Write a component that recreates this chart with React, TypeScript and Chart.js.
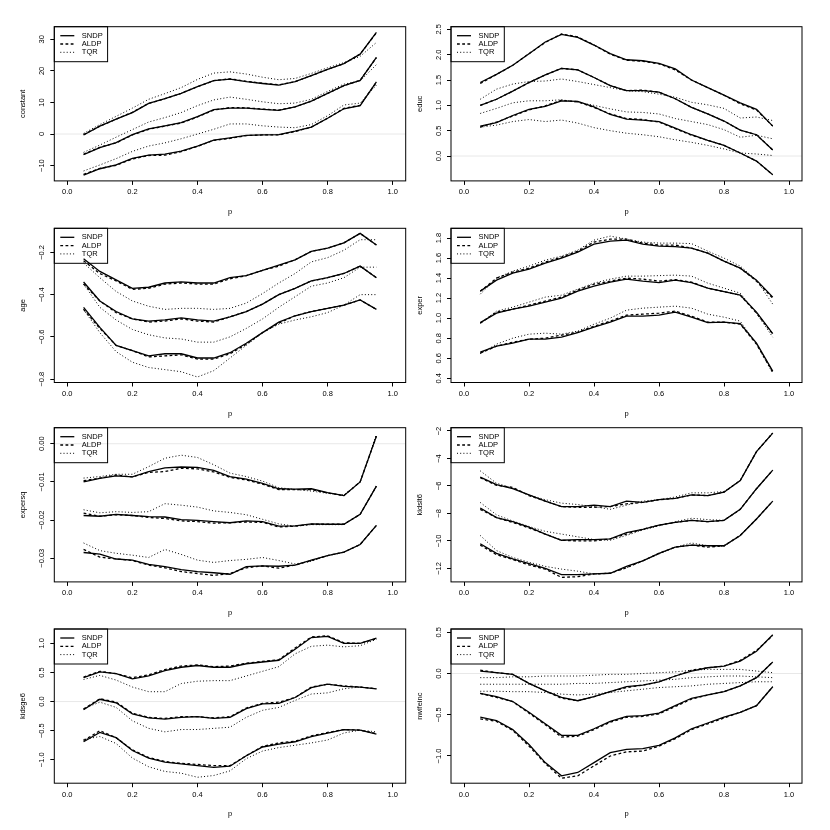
import { useEffect, useRef } from 'react';
import { Chart, registerables } from 'chart.js';

Chart.register(...registerables);

// quantile levels
const P = [0.05, 0.1, 0.15, 0.2, 0.25, 0.3, 0.35, 0.4, 0.45, 0.5, 0.55, 0.6, 0.65, 0.7, 0.75, 0.8, 0.85, 0.9, 0.95];
const X_TICKS = [0, 0.2, 0.4, 0.6, 0.8, 1.0];
const METHODS = ['SNDP', 'ALDP', 'TQR'];

// each block: [lower band, estimate, upper band]
const constantSNDP = [
  [-13.0, -11.0, -9.8, -7.7, -6.7, -6.4, -5.4, -3.8, -1.9, -1.2, -0.4, -0.3, -0.2, 0.9, 2.2, 5.0, 8.0, 9.0, 16.5],
  [-6.5, -4.3, -2.7, -0.2, 1.6, 2.6, 3.6, 5.5, 7.7, 8.2, 8.2, 7.8, 7.5, 8.6, 10.4, 12.9, 15.3, 17.0, 24.3],
  [-0.3, 2.5, 4.7, 6.8, 9.7, 11.2, 12.9, 15.0, 16.9, 17.4, 16.6, 16.0, 15.5, 16.6, 18.5, 20.5, 22.3, 25.3, 32.2],
];
const constantALDP = [
  [-12.8, -10.9, -9.9, -7.9, -6.8, -6.7, -5.6, -3.9, -2.0, -1.4, -0.5, -0.3, -0.3, 0.8, 2.2, 5.0, 8.1, 9.1, 16.4],
  [-6.4, -4.2, -2.8, -0.3, 1.5, 2.5, 3.5, 5.4, 7.6, 8.4, 8.3, 7.9, 7.6, 8.6, 10.4, 12.9, 15.3, 17.0, 24.2],
  [-0.2, 2.5, 4.7, 6.9, 9.7, 11.2, 12.9, 15.0, 16.9, 17.5, 16.7, 16.1, 15.6, 16.6, 18.5, 20.5, 22.3, 25.3, 32.1],
];
const constantTQR = [
  [-11.7, -9.8, -7.8, -5.5, -3.8, -2.8, -1.5, 0.0, 1.5, 3.2, 3.2, 2.6, 2.2, 2.0, 3.0, 5.8, 9.2, 9.8, 15.5],
  [-5.8, -3.5, -1.0, 1.4, 3.8, 5.2, 6.8, 9.0, 10.8, 11.7, 11.0, 10.2, 9.6, 9.8, 11.0, 13.5, 15.8, 16.8, 22.0],
  [0.2, 3.0, 5.6, 8.2, 11.0, 12.8, 14.7, 17.3, 19.3, 19.7, 19.0, 18.0, 17.2, 17.6, 19.2, 21.0, 22.6, 24.6, 29.0],
];

const educSNDP = [
  [0.59, 0.66, 0.8, 0.92, 0.98, 1.09, 1.08, 0.97, 0.82, 0.73, 0.71, 0.68, 0.55, 0.42, 0.31, 0.21, 0.06, -0.1, -0.37],
  [1.0, 1.12, 1.28, 1.45, 1.6, 1.73, 1.7, 1.55, 1.39, 1.29, 1.29, 1.26, 1.13, 0.96, 0.83, 0.69, 0.51, 0.42, 0.12],
  [1.45, 1.61, 1.79, 2.02, 2.25, 2.4, 2.34, 2.19, 2.02, 1.9, 1.88, 1.83, 1.72, 1.5, 1.35, 1.2, 1.05, 0.92, 0.59],
];
const educALDP = [
  [0.57, 0.67, 0.79, 0.91, 0.99, 1.1, 1.07, 0.96, 0.83, 0.74, 0.72, 0.67, 0.54, 0.41, 0.31, 0.21, 0.06, -0.1, -0.37],
  [1.0, 1.12, 1.28, 1.45, 1.6, 1.73, 1.7, 1.55, 1.39, 1.29, 1.3, 1.26, 1.13, 0.96, 0.83, 0.69, 0.51, 0.42, 0.12],
  [1.43, 1.61, 1.79, 2.02, 2.24, 2.41, 2.35, 2.19, 2.01, 1.89, 1.87, 1.82, 1.7, 1.5, 1.35, 1.2, 1.03, 0.91, 0.59],
];
const educTQR = [
  [0.57, 0.61, 0.68, 0.72, 0.68, 0.71, 0.65, 0.56, 0.5, 0.45, 0.42, 0.38, 0.32, 0.27, 0.21, 0.14, 0.06, 0.04, 0.01],
  [0.84, 0.94, 1.05, 1.09, 1.09, 1.11, 1.06, 1.0, 0.93, 0.87, 0.86, 0.83, 0.74, 0.68, 0.62, 0.52, 0.37, 0.41, 0.34],
  [1.12, 1.32, 1.42, 1.47, 1.48, 1.52, 1.47, 1.41, 1.35, 1.29, 1.27, 1.22, 1.16, 1.06, 1.01, 0.94, 0.75, 0.77, 0.7],
];

const ageSNDP = [
  [-0.46, -0.555, -0.64, -0.665, -0.69, -0.68, -0.68, -0.7, -0.7, -0.675, -0.63, -0.58, -0.53, -0.5, -0.48, -0.465, -0.45, -0.425, -0.47],
  [-0.34, -0.43, -0.48, -0.515, -0.525, -0.52, -0.51, -0.52, -0.525, -0.505, -0.48, -0.445, -0.4, -0.37, -0.335, -0.32, -0.3, -0.265, -0.32],
  [-0.23, -0.29, -0.33, -0.37, -0.365, -0.345, -0.34, -0.345, -0.345, -0.32, -0.31, -0.285, -0.26, -0.235, -0.195, -0.18, -0.155, -0.11, -0.165],
];
const ageALDP = [
  [-0.47, -0.56, -0.64, -0.665, -0.695, -0.69, -0.685, -0.705, -0.705, -0.68, -0.635, -0.58, -0.535, -0.5, -0.48, -0.465, -0.45, -0.425, -0.47],
  [-0.35, -0.43, -0.485, -0.515, -0.53, -0.525, -0.515, -0.525, -0.53, -0.505, -0.48, -0.445, -0.4, -0.37, -0.335, -0.32, -0.3, -0.265, -0.32],
  [-0.24, -0.3, -0.335, -0.375, -0.37, -0.35, -0.345, -0.35, -0.35, -0.325, -0.31, -0.285, -0.265, -0.235, -0.195, -0.18, -0.155, -0.11, -0.165],
];
const ageTQR = [
  [-0.47, -0.58, -0.67, -0.72, -0.745, -0.755, -0.765, -0.79, -0.76, -0.7, -0.64, -0.58, -0.54, -0.52, -0.505, -0.485, -0.45, -0.4, -0.4],
  [-0.35, -0.46, -0.52, -0.565, -0.59, -0.605, -0.61, -0.625, -0.625, -0.6, -0.56, -0.515, -0.46, -0.41, -0.36, -0.345, -0.32, -0.27, -0.27],
  [-0.25, -0.32, -0.385, -0.43, -0.455, -0.47, -0.465, -0.465, -0.47, -0.465, -0.44, -0.395, -0.345, -0.3, -0.245, -0.225, -0.19, -0.14, -0.14],
];

const experSNDP = [
  [0.66, 0.72, 0.75, 0.79, 0.79, 0.81, 0.855, 0.91, 0.96, 1.02, 1.02, 1.03, 1.06, 1.01, 0.955, 0.96, 0.945, 0.75, 0.47],
  [0.955, 1.05, 1.09, 1.12, 1.16, 1.2, 1.27, 1.32, 1.36, 1.39, 1.37, 1.355, 1.38, 1.355, 1.3, 1.265, 1.23, 1.06, 0.845],
  [1.27, 1.38, 1.45, 1.49, 1.55, 1.6, 1.66, 1.74, 1.77, 1.78, 1.74, 1.72, 1.715, 1.7, 1.65, 1.57, 1.5, 1.38, 1.21],
];
const experALDP = [
  [0.65, 0.72, 0.76, 0.79, 0.8, 0.83, 0.86, 0.92, 0.97, 1.03, 1.04, 1.05, 1.07, 1.02, 0.96, 0.96, 0.94, 0.74, 0.46],
  [0.95, 1.06, 1.09, 1.13, 1.17, 1.21, 1.28, 1.34, 1.37, 1.4, 1.39, 1.37, 1.385, 1.36, 1.3, 1.265, 1.23, 1.05, 0.84],
  [1.27, 1.4, 1.46, 1.5, 1.56, 1.61, 1.67, 1.76, 1.79, 1.79, 1.75, 1.73, 1.73, 1.7, 1.65, 1.57, 1.5, 1.37, 1.2],
];
const experTQR = [
  [0.645, 0.74, 0.8, 0.84, 0.85, 0.84, 0.87, 0.94, 1.0, 1.08, 1.1, 1.11, 1.12, 1.1, 1.04, 1.01, 0.97, 0.74, 0.45],
  [0.95, 1.07, 1.11, 1.16, 1.21, 1.23, 1.29, 1.35, 1.39, 1.42, 1.42, 1.425, 1.43, 1.42, 1.35, 1.3, 1.25, 1.05, 0.81],
  [1.24, 1.4, 1.47, 1.52, 1.58, 1.62, 1.68, 1.78, 1.82, 1.79, 1.76, 1.75, 1.75, 1.745, 1.67, 1.6, 1.52, 1.38, 1.14],
];

const expersqSNDP = [
  [-0.0285, -0.0289, -0.0302, -0.0305, -0.0316, -0.0322, -0.033, -0.0335, -0.0338, -0.0342, -0.0322, -0.032, -0.0321, -0.0318, -0.0305, -0.0293, -0.0284, -0.0264, -0.0214],
  [-0.0188, -0.019, -0.0185, -0.0188, -0.0191, -0.0192, -0.0199, -0.0201, -0.0204, -0.0207, -0.0202, -0.0204, -0.0216, -0.0215, -0.021, -0.0211, -0.0211, -0.0185, -0.0111],
  [-0.01, -0.0091, -0.0084, -0.0087, -0.0073, -0.0063, -0.0061, -0.0062, -0.007, -0.0086, -0.0093, -0.0104, -0.0118, -0.0119, -0.0118, -0.0128, -0.0136, -0.01, 0.002],
];
const expersqALDP = [
  [-0.0277, -0.0297, -0.0302, -0.0306, -0.0318, -0.0325, -0.0335, -0.034, -0.0345, -0.034, -0.0325, -0.032, -0.0326, -0.0318, -0.0306, -0.0293, -0.0284, -0.0264, -0.0214],
  [-0.0182, -0.019, -0.0186, -0.0188, -0.0193, -0.0196, -0.0202, -0.0204, -0.0208, -0.0207, -0.0205, -0.0206, -0.0218, -0.0216, -0.0211, -0.0211, -0.0211, -0.0185, -0.0111],
  [-0.0097, -0.009, -0.0082, -0.0087, -0.0075, -0.0073, -0.0064, -0.0066, -0.0074, -0.0088, -0.0095, -0.0106, -0.012, -0.012, -0.012, -0.0129, -0.0136, -0.01, 0.002],
];
const expersqTQR = [
  [-0.026, -0.028, -0.0287, -0.0292, -0.0298, -0.0277, -0.029, -0.0305, -0.0311, -0.0306, -0.0303, -0.0298, -0.0306, -0.0315, -0.0308, -0.0293, -0.0284, -0.0264, -0.0214],
  [-0.0173, -0.0181, -0.0178, -0.018, -0.0178, -0.0157, -0.0161, -0.0166, -0.0176, -0.018, -0.0186, -0.0198, -0.021, -0.0216, -0.0212, -0.0212, -0.0212, -0.0185, -0.0111],
  [-0.009, -0.0086, -0.008, -0.008, -0.006, -0.0038, -0.003, -0.0036, -0.0055, -0.0077, -0.0086, -0.0098, -0.0115, -0.012, -0.0124, -0.013, -0.0134, -0.01, 0.0025],
];

const kidslt6SNDP = [
  [-10.2, -10.9, -11.3, -11.65, -12.0, -12.45, -12.45, -12.4, -12.35, -11.85, -11.45, -10.9, -10.45, -10.3, -10.35, -10.35, -9.6, -8.4, -7.1],
  [-7.6, -8.3, -8.6, -9.0, -9.5, -9.95, -9.9, -9.9, -9.85, -9.4, -9.15, -8.85, -8.65, -8.5, -8.6, -8.5, -7.7, -6.2, -4.85],
  [-5.35, -5.9, -6.2, -6.65, -7.1, -7.5, -7.5, -7.4, -7.5, -7.1, -7.2, -7.0, -6.9, -6.65, -6.7, -6.45, -5.6, -3.5, -2.15],
];
const kidslt6ALDP = [
  [-10.3, -11.0, -11.35, -11.75, -12.05, -12.65, -12.6, -12.4, -12.35, -11.95, -11.45, -10.9, -10.45, -10.3, -10.45, -10.35, -9.6, -8.4, -7.1],
  [-7.7, -8.3, -8.65, -9.05, -9.5, -9.95, -10.0, -10.0, -9.85, -9.5, -9.15, -8.85, -8.65, -8.5, -8.6, -8.5, -7.7, -6.2, -4.85],
  [-5.4, -5.95, -6.1, -6.7, -7.1, -7.5, -7.55, -7.55, -7.5, -7.3, -7.2, -7.0, -6.9, -6.65, -6.7, -6.45, -5.6, -3.5, -2.15],
];
const kidslt6TQR = [
  [-9.6, -10.7, -11.2, -11.55, -11.85, -12.05, -12.2, -12.4, -12.35, -11.95, -11.45, -10.95, -10.45, -10.15, -10.35, -10.4, -9.6, -8.4, -7.1],
  [-7.2, -8.1, -8.55, -8.95, -9.3, -9.5, -9.7, -9.9, -9.95, -9.6, -9.2, -8.9, -8.6, -8.35, -8.45, -8.5, -7.7, -6.2, -4.85],
  [-4.9, -5.8, -6.15, -6.65, -7.0, -7.25, -7.35, -7.5, -7.7, -7.4, -7.1, -7.0, -6.8, -6.5, -6.5, -6.4, -5.6, -3.5, -2.1],
];

const kidsge6SNDP = [
  [-0.69, -0.53, -0.62, -0.84, -0.97, -1.04, -1.07, -1.1, -1.13, -1.11, -0.93, -0.78, -0.73, -0.69, -0.6, -0.54, -0.48, -0.49, -0.56],
  [-0.14, 0.04, -0.02, -0.21, -0.28, -0.3, -0.27, -0.26, -0.29, -0.27, -0.12, -0.04, -0.03, 0.07, 0.24, 0.3, 0.26, 0.25, 0.22],
  [0.41, 0.51, 0.48, 0.39, 0.44, 0.53, 0.59, 0.62, 0.59, 0.59, 0.65, 0.68, 0.71, 0.9, 1.1, 1.12, 1.0, 1.0, 1.09],
];
const kidsge6ALDP = [
  [-0.67, -0.5, -0.62, -0.83, -0.96, -1.03, -1.06, -1.08, -1.1, -1.1, -0.93, -0.77, -0.71, -0.68, -0.59, -0.53, -0.48, -0.49, -0.55],
  [-0.13, 0.05, -0.01, -0.2, -0.27, -0.29, -0.26, -0.26, -0.28, -0.26, -0.11, -0.03, -0.01, 0.07, 0.25, 0.3, 0.27, 0.25, 0.22],
  [0.42, 0.52, 0.48, 0.41, 0.46, 0.55, 0.61, 0.63, 0.6, 0.61, 0.66, 0.69, 0.72, 0.92, 1.11, 1.13, 1.01, 1.0, 1.08],
];
const kidsge6TQR = [
  [-0.65, -0.6, -0.72, -0.97, -1.12, -1.2, -1.23, -1.3, -1.27, -1.19, -0.98, -0.85, -0.79, -0.75, -0.71, -0.66, -0.54, -0.49, -0.52],
  [-0.12, -0.01, -0.1, -0.33, -0.46, -0.52, -0.48, -0.48, -0.46, -0.44, -0.27, -0.15, -0.1, 0.02, 0.13, 0.15, 0.22, 0.25, 0.22],
  [0.38, 0.45, 0.37, 0.25, 0.17, 0.17, 0.31, 0.35, 0.36, 0.36, 0.44, 0.52, 0.6, 0.82, 0.95, 0.97, 0.94, 0.96, 1.07],
];

const nwifeincSNDP = [
  [-0.53, -0.57, -0.68, -0.86, -1.08, -1.24, -1.2, -1.08, -0.96, -0.92, -0.91, -0.87, -0.78, -0.67, -0.6, -0.53, -0.47, -0.39, -0.16],
  [-0.24, -0.28, -0.34, -0.47, -0.61, -0.75, -0.75, -0.67, -0.58, -0.52, -0.51, -0.48, -0.39, -0.3, -0.26, -0.22, -0.15, -0.05, 0.14],
  [0.03, 0.01, -0.01, -0.12, -0.21, -0.29, -0.33, -0.28, -0.22, -0.16, -0.14, -0.1, -0.03, 0.03, 0.07, 0.09, 0.15, 0.27, 0.47],
];
const nwifeincALDP = [
  [-0.55, -0.58, -0.69, -0.88, -1.09, -1.27, -1.24, -1.12, -1.0, -0.95, -0.94, -0.88, -0.79, -0.68, -0.61, -0.54, -0.47, -0.39, -0.16],
  [-0.24, -0.29, -0.34, -0.48, -0.62, -0.77, -0.76, -0.68, -0.59, -0.53, -0.52, -0.49, -0.4, -0.31, -0.26, -0.22, -0.15, -0.05, 0.14],
  [0.04, 0.01, -0.01, -0.12, -0.21, -0.3, -0.33, -0.28, -0.22, -0.17, -0.14, -0.1, -0.03, 0.04, 0.07, 0.09, 0.16, 0.28, 0.46],
];
const nwifeincTQR = [
  [-0.215, -0.215, -0.22, -0.22, -0.23, -0.25, -0.26, -0.25, -0.23, -0.21, -0.19, -0.17, -0.16, -0.15, -0.13, -0.12, -0.11, -0.1, -0.1],
  [-0.13, -0.13, -0.13, -0.13, -0.13, -0.13, -0.12, -0.12, -0.11, -0.1, -0.09, -0.08, -0.07, -0.05, -0.04, -0.03, -0.03, -0.04, -0.05],
  [-0.05, -0.05, -0.04, -0.04, -0.03, -0.03, -0.03, -0.02, -0.01, -0.01, 0.0, 0.01, 0.02, 0.04, 0.05, 0.05, 0.05, 0.03, 0.01],
];

const FONT = { family: "'Liberation Sans', Arial, Helvetica, sans-serif", size: 7.5 };
const FONT_CSS = `7.5px 'Liberation Sans', Arial, Helvetica, sans-serif`;

const STYLES = [
  { dash: [] as number[], width: 1.3 },
  { dash: [2.8, 2.4], width: 1.3 },
  { dash: [1, 2.2], width: 1 },
];

interface PanelDef {
  name: string;
  series: number[][][];
  yMin: number;
  yMax: number;
  yTicks: number[];
  dec: number;
}

const PANELS: PanelDef[] = [
  { name: 'constant', series: [constantSNDP, constantALDP, constantTQR], yMin: -14.85, yMax: 34.0, yTicks: [-10, 0, 10, 20, 30], dec: 0 },
  { name: 'educ', series: [educSNDP, educALDP, educTQR], yMin: -0.491, yMax: 2.552, yTicks: [0, 0.5, 1, 1.5, 2, 2.5], dec: 1 },
  { name: 'age', series: [ageSNDP, ageALDP, ageTQR], yMin: -0.816, yMax: -0.086, yTicks: [-0.8, -0.6, -0.4, -0.2], dec: 1 },
  { name: 'exper', series: [experSNDP, experALDP, experTQR], yMin: 0.357, yMax: 1.898, yTicks: [0.4, 0.6, 0.8, 1.0, 1.2, 1.4, 1.6, 1.8], dec: 1 },
  { name: 'expersq', series: [expersqSNDP, expersqALDP, expersqTQR], yMin: -0.0362, yMax: 0.0042, yTicks: [-0.03, -0.02, -0.01, 0], dec: 2 },
  { name: 'kidslt6', series: [kidslt6SNDP, kidslt6ALDP, kidslt6TQR], yMin: -12.98, yMax: -1.76, yTicks: [-12, -10, -8, -6, -4, -2], dec: 0 },
  { name: 'kidsge6', series: [kidsge6SNDP, kidsge6ALDP, kidsge6TQR], yMin: -1.402, yMax: 1.247, yTicks: [-1, -0.5, 0, 0.5, 1], dec: 1 },
  { name: 'nwifeinc', series: [nwifeincSNDP, nwifeincALDP, nwifeincTQR], yMin: -1.33, yMax: 0.54, yTicks: [-1, -0.5, 0, 0.5], dec: 1 },
];

// page geometry (R mfrow layout)
const COL_W = 415;
const COL_PLOT = [{ l: 54.3, r: 405.7 }, { l: 36, r: 387 }];
const ROW_TOP = [26.7, 228.3, 427.7, 629];
const PLOT_H = 154.2;
const CANVAS_H = 225;

const fmt = (v: number, dec: number) => v.toFixed(dec).replace('-', '\u2212');

const rPlot = {
  id: 'rPlot',
  beforeDatasetsDraw(chart: any) {
    const { ctx, chartArea: a, scales: { y } } = chart;
    if (y.min < 0 && y.max > 0) {
      const py = y.getPixelForValue(0);
      ctx.save();
      ctx.strokeStyle = '#e8e8e8';
      ctx.lineWidth = 1;
      ctx.beginPath();
      ctx.moveTo(a.left, py);
      ctx.lineTo(a.right, py);
      ctx.stroke();
      ctx.restore();
    }
  },
  afterDraw(chart: any, _args: any, opts: any) {
    const { ctx, chartArea: a, scales: { y } } = chart;
    ctx.save();
    // frame
    ctx.strokeStyle = '#000';
    ctx.lineWidth = 1;
    ctx.strokeRect(a.left, a.top, a.right - a.left, a.bottom - a.top);
    // rotated y tick labels
    ctx.fillStyle = '#000';
    ctx.font = FONT_CSS;
    ctx.textAlign = 'center';
    ctx.textBaseline = 'middle';
    for (const t of y.ticks) {
      ctx.save();
      ctx.translate(a.left - 12, y.getPixelForValue(t.value));
      ctx.rotate(-Math.PI / 2);
      ctx.fillText(fmt(t.value, opts.dec), 0, 0);
      ctx.restore();
    }
    // legend box
    const lx = a.left;
    const ly = a.top;
    ctx.strokeRect(lx, ly, 53.3, 35);
    const rows = [9, 17.3, 25.6];
    ctx.textAlign = 'left';
    METHODS.forEach((m, i) => {
      const s = STYLES[i];
      ctx.setLineDash(s.dash);
      ctx.lineWidth = s.width;
      ctx.beginPath();
      ctx.moveTo(lx + 6, ly + rows[i]);
      ctx.lineTo(lx + 20, ly + rows[i]);
      ctx.stroke();
      ctx.setLineDash([]);
      ctx.fillText(m, lx + 27.5, ly + rows[i]);
    });
    ctx.restore();
  },
};

function Panel({ def, index }: { def: PanelDef; index: number }) {
  const canvasRef = useRef<HTMLCanvasElement>(null);
  const col = index % 2;
  const row = Math.floor(index / 2);
  const left = col * COL_W;
  const top = Math.floor(ROW_TOP[row]) - 26;
  const padTop = ROW_TOP[row] - top;
  const plot = COL_PLOT[col];
  const xH = CANVAS_H - padTop - PLOT_H;

  useEffect(() => {
    if (!canvasRef.current) return;
    const datasets: any[] = [];
    def.series.forEach((bands, m) => {
      bands.forEach((vals) => {
        datasets.push({
          label: METHODS[m],
          data: P.map((p, i) => ({ x: p, y: vals[i] })),
          borderColor: '#000',
          borderWidth: STYLES[m].width,
          borderDash: STYLES[m].dash,
          pointRadius: 0,
          fill: false,
          tension: 0,
        });
      });
    });

    const grid = { drawOnChartArea: false, drawTicks: true, tickLength: 4, color: '#000', tickColor: '#000', lineWidth: 1 };

    const chart = new Chart(canvasRef.current, {
      type: 'line',
      data: { datasets },
      plugins: [rPlot],
      options: {
        responsive: false,
        animation: false,
        events: [],
        layout: { padding: { top: padTop, right: COL_W - plot.r, left: 0, bottom: 0 } },
        plugins: {
          legend: { display: false },
          tooltip: { enabled: false },
          rPlot: { dec: def.dec },
        } as any,
        scales: {
          x: {
            type: 'linear',
            min: -0.04,
            max: 1.04,
            afterBuildTicks: (s: any) => { s.ticks = X_TICKS.map((v) => ({ value: v })); },
            afterFit: (s: any) => { s.height = xH; },
            ticks: { font: FONT, color: '#000', padding: 3, callback: (v: any) => Number(v).toFixed(1) },
            grid,
            border: { display: false },
            title: { display: true, text: 'p', font: FONT, color: '#000', padding: { top: 0, bottom: xH - 31 - 4.5 } },
          },
          y: {
            type: 'linear',
            min: def.yMin,
            max: def.yMax,
            afterBuildTicks: (s: any) => { s.ticks = def.yTicks.map((v) => ({ value: v })); },
            afterFit: (s: any) => { s.width = plot.l; },
            ticks: { display: false },
            grid,
            border: { display: false },
            title: { display: true, text: def.name, font: FONT, color: '#000', padding: { top: plot.l - 31.5 - 4.5, bottom: 0 } },
          },
        },
      },
    });
    return () => chart.destroy();
  }, [def, index]);

  return (
    <canvas
      ref={canvasRef}
      width={COL_W}
      height={CANVAS_H}
      style={{ position: 'absolute', left, top }}
    />
  );
}

export default function App() {
  return (
    <div style={{ position: 'absolute', left: 0, top: 0, width: 830, height: 830, background: '#fff' }}>
      {PANELS.map((d, i) => (
        <Panel key={d.name} def={d} index={i} />
      ))}
    </div>
  );
}
